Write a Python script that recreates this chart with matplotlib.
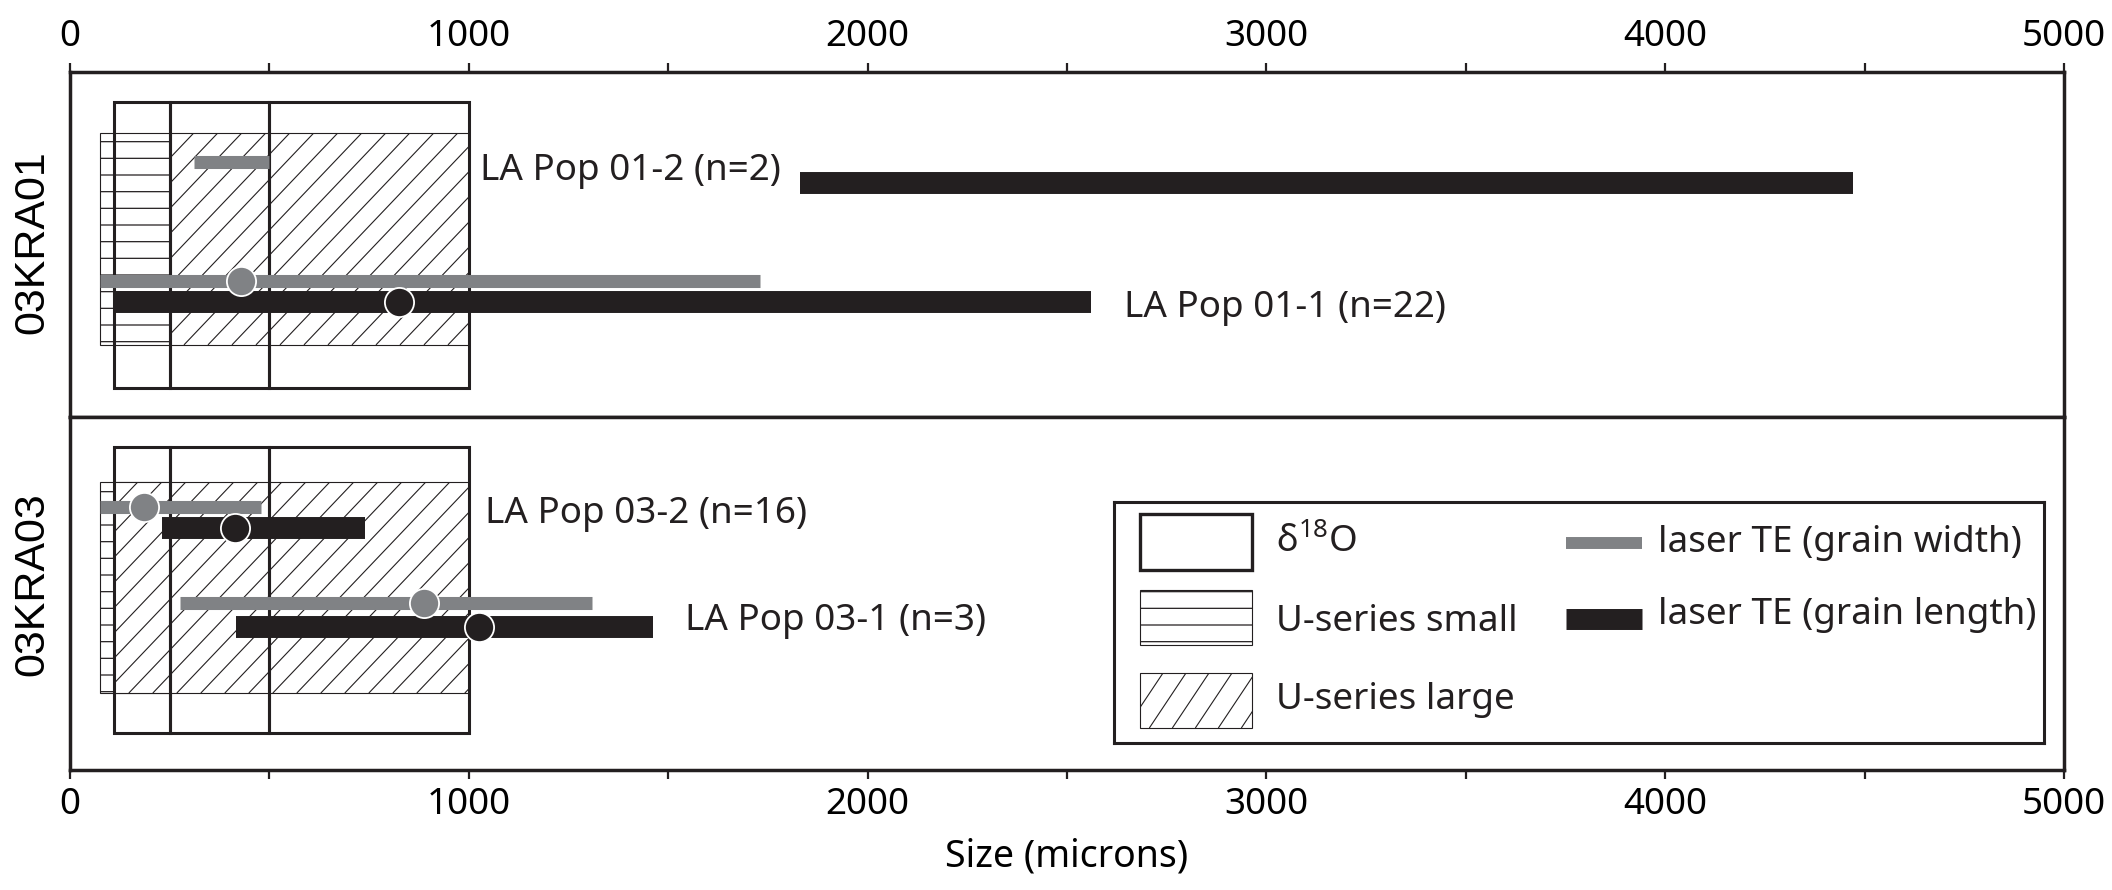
import numpy as np
import matplotlib
matplotlib.use("Agg")
import matplotlib.pyplot as plt  # noqa: E402
from matplotlib.patches import Rectangle  # noqa: E402
from matplotlib.collections import LineCollection  # noqa: E402
from matplotlib.ticker import MultipleLocator  # noqa: E402

plt.rcParams["font.family"] = ["Noto Sans", "DejaVu Sans"]
plt.rcParams["mathtext.fontset"] = "custom"
plt.rcParams["mathtext.rm"] = "Noto Sans"
plt.rcParams["hatch.linewidth"] = 0.9

GREY = "#808285"
BLACK = "#231f20"
FS = 26.5

samples = ["03KRA01", "03KRA03"]

# d18O sampling windows (microns), same nested set for both samples
d18o_edges = [110, 250, 500, 1000]
# U-series drill sizes (microns)
useries_small = [(75, 250), (75, 250)]
useries_large = [(250, 1000), (110, 1000)]

# laser TE populations
pop_sample = [0, 0, 1, 1]
pop_names = ["LA Pop 01-2", "LA Pop 01-1", "LA Pop 03-2", "LA Pop 03-1"]
pop_n = [2, 22, 16, 3]
width_lo = [310, 75, 75, 277]
width_hi = [500, 1730, 478, 1309]
width_mean = [np.nan, 430, 185, 888]
length_lo = [1830, 110, 230, 417]
length_hi = [4470, 2560, 740, 1463]
length_mean = [np.nan, 824, 413, 1025]

# vertical layout inside each panel (0 = bottom, 1 = top)
d18o_span = [(0.084, 0.913), (0.105, 0.915)]
useries_span = [(0.209, 0.823), (0.218, 0.816)]
width_y = [0.739, 0.394, 0.745, 0.473]
length_y = [0.678, 0.333, 0.686, 0.405]
label_xy = [(1028, 0.687), (2644, 0.291), (1040, 0.699), (1542, 0.397)]
ylabel_y = [0.507, 0.527]


def diag_hatch(ax, rect, spacing, slope=1.05, lw=0.8):
    """'/' hatching drawn as clipped lines (spacing in pixels)."""
    x0, y0 = rect.get_x(), rect.get_y()
    x1, y1 = x0 + rect.get_width(), y0 + rect.get_height()
    c = ax.transData.transform([(x0, y0), (x1, y1)])
    (px0, py0), (px1, py1) = c.min(axis=0), c.max(axis=0)
    run = (py1 - py0) / slope
    starts = np.arange(px0 - run, px1, spacing)
    segs = np.array([[(s, py0), (s + run, py1)] for s in starts])
    segs = ax.transData.inverted().transform(segs.reshape(-1, 2)).reshape(segs.shape)
    lc = LineCollection(segs, colors=BLACK, linewidths=lw,
                        zorder=rect.get_zorder() + 0.1)
    ax.add_collection(lc, autolim=False)
    # after add_collection, otherwise the axes patch replaces the clip box
    lc.set_clip_path(rect)


W, H = 2112, 890
fig = plt.figure(figsize=(W / 100, H / 100), dpi=100)
ax_top = fig.add_axes([70 / W, 1 - 417 / H, 1994 / W, 345 / H])
ax_bot = fig.add_axes([70 / W, 1 - 770 / H, 1994 / W, 353 / H])
axes = [ax_top, ax_bot]

for i, ax in enumerate(axes):
    ax.set_xlim(0, 5000)
    ax.set_ylim(0, 1)
    ax.set_yticks([])
    for sp in ax.spines.values():
        sp.set_linewidth(2.5)
        sp.set_color(BLACK)
    ax.xaxis.set_major_locator(MultipleLocator(1000))
    ax.xaxis.set_minor_locator(MultipleLocator(500))
    on_top = i == 0
    ax.tick_params(axis="x", which="both", direction="out", length=6.5, width=1.6,
                   color=BLACK, top=on_top, bottom=not on_top,
                   labeltop=on_top, labelbottom=not on_top,
                   labelsize=FS, pad=6)
    ax.set_ylabel(samples[i], fontsize=31,
                  family=["Liberation Sans", "DejaVu Sans"])
    ax.yaxis.set_label_coords(-0.009, ylabel_y[i])

    # U-series windows: small underneath, large (white-filled) on top
    lo, hi = useries_span[i]
    a, b = useries_small[i]
    ax.add_patch(Rectangle((a, lo), b - a, hi - lo, facecolor="white",
                           edgecolor=BLACK, lw=0.8, hatch="-", zorder=1))
    a, b = useries_large[i]
    big = Rectangle((a, lo), b - a, hi - lo, facecolor="white",
                    edgecolor=BLACK, lw=0.8, zorder=1.5)
    ax.add_patch(big)
    diag_hatch(ax, big, spacing=24)

    # d18O windows
    lo, hi = d18o_span[i]
    for a, b in zip(d18o_edges[:-1], d18o_edges[1:]):
        ax.add_patch(Rectangle((a, lo), b - a, hi - lo, fill=False,
                               edgecolor=BLACK, lw=2.2, zorder=3))

ax_bot.set_xlabel("Size (microns)", fontsize=27, labelpad=10)

for k in range(len(pop_names)):
    ax = axes[pop_sample[k]]
    ax.hlines(width_y[k], width_lo[k], width_hi[k], colors=GREY, lw=9.4,
              capstyle="butt", zorder=4)
    ax.hlines(length_y[k], length_lo[k], length_hi[k], colors=BLACK, lw=15.8,
              capstyle="butt", zorder=4)
    ax.plot(width_mean[k], width_y[k], "o", ms=21, mfc=GREY, mec="white",
            mew=1.3, zorder=5)
    ax.plot(length_mean[k], length_y[k], "o", ms=21, mfc=BLACK, mec="white",
            mew=1.3, zorder=5)
    lx, ly = label_xy[k]
    ax.text(lx, ly, f"{pop_names[k]} (n={pop_n[k]})", fontsize=FS,
            va="baseline", color=BLACK)

# legend box, laid out in pixel units
lg = fig.add_axes([1114 / W, 1 - 743 / H, 930 / W, 241 / H])
lg.set_xlim(0, 930)
lg.set_ylim(241, 0)
lg.set_xticks([])
lg.set_yticks([])
for sp in lg.spines.values():
    sp.set_linewidth(2.2)
    sp.set_color(BLACK)

lg.add_patch(Rectangle((26, 12), 112, 56, facecolor="white", edgecolor=BLACK,
                       lw=2.4))
lg.add_patch(Rectangle((26, 88), 112, 55, facecolor="white", edgecolor=BLACK,
                       lw=0.8, hatch="-"))
swatch = Rectangle((26, 171), 112, 55, facecolor="white", edgecolor=BLACK, lw=0.8)
lg.add_patch(swatch)
diag_hatch(lg, swatch, spacing=23, slope=1.5)
lg.hlines(41, 452, 528, colors=GREY, lw=8.6, capstyle="butt")
lg.hlines(117, 452, 528, colors=BLACK, lw=15.1, capstyle="butt")

legend_text = [(162, 41, "δ$^{18}$O"), (162, 120, "U-series small"),
               (162, 198, "U-series large"), (544, 41, "laser TE (grain width)"),
               (544, 113, "laser TE (grain length)")]
for tx, ty, s in legend_text:
    lg.text(tx, ty, s, fontsize=FS, va="center", color=BLACK)

fig.savefig("out.png", dpi=100)
